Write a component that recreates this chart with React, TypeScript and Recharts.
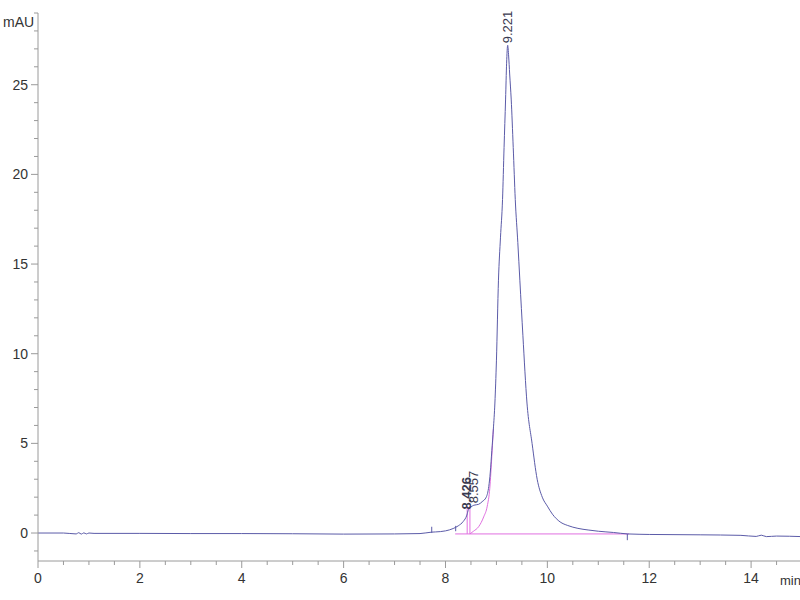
import { Line, LineChart, ReferenceDot, ReferenceLine, XAxis, YAxis } from 'recharts';

// blue detector trace (min, mAU)
const traceTime = [
  0, 0.5, 0.75, 0.8, 0.85, 0.9, 0.95, 1.0, 1.1, 2, 3, 4, 5, 6, 7, 7.5, 7.73, 7.8, 8.0, 8.15, 8.25, 8.35,
  8.42, 8.45, 8.5, 8.557, 8.65, 8.72, 8.8, 8.85, 8.88, 8.91, 8.94, 8.97, 9.0, 9.04, 9.08, 9.12, 9.15, 9.18,
  9.2, 9.221, 9.24, 9.26, 9.29, 9.33, 9.37, 9.42, 9.46, 9.52, 9.6, 9.7, 9.8, 9.9, 10.0, 10.1, 10.25, 10.4,
  10.6, 10.8, 11.0, 11.3, 11.57, 11.8, 12, 13, 13.8, 14.1, 14.2, 14.3, 14.5, 15,
];
const traceSignal = [
  0, 0, -0.05, 0.02, -0.06, 0.01, -0.05, 0, -0.02, -0.02, -0.03, -0.03, -0.04, -0.06, -0.05, -0.03, 0.05,
  0.06, 0.12, 0.25, 0.4, 0.65, 1.0, 1.3, 1.45, 1.55, 1.6, 1.75, 2.0, 2.6, 3.4, 4.6, 5.8, 7.25, 9.6, 14.1,
  16.5, 18.6, 21.5, 24.2, 26.2, 27.2, 26.6, 25.6, 24.2, 21.5, 18.6, 16.2, 14.1, 11.0, 7.25, 5.0, 3.0, 2.0,
  1.5, 1.05, 0.62, 0.42, 0.26, 0.17, 0.1, 0.03, -0.05, -0.07, -0.08, -0.1, -0.13, -0.19, -0.12, -0.2, -0.17,
  -0.2,
];

// magenta skim of the main peak and the integration baseline
const skimTime = [8.48, 8.55, 8.65, 8.75, 8.82, 8.87, 8.91, 8.94];
const skimSignal = [-0.05, 0.1, 0.35, 0.9, 1.5, 2.5, 4.3, 5.8];
const baseTime = [8.19, 11.6];
const baseSignal = [-0.05, -0.05];

// peak markers
const dropTimes = [8.426, 8.48];
const dropTops = [1.5, 1.5];
const tickTimes = [7.73, 8.2, 11.57];
const tickLow = [0, 0.1, -0.05];
const tickHigh = [0.35, 0.4, -0.4];

const peakTimes = [8.426, 8.557, 9.221];
const peakHeights = [1.2, 1.55, 27.2];
const peakLabels = ['8.426', '8.557', '9.221'];

const xTicks = Array.from({ length: 30 }, (_, i) => i * 0.5);
const xLabels = [0, 2, 4, 6, 8, 10, 12, 14];
const yTicks = Array.from({ length: 31 }, (_, i) => i - 1);
const yLabels = [0, 5, 10, 15, 20, 25];

const trace = traceTime.map((t, i) => ({ t, v: traceSignal[i] }));
const skim = skimTime.map((t, i) => ({ t, v: skimSignal[i] }));
const base = baseTime.map((t, i) => ({ t, v: baseSignal[i] }));

const FONT = '"Liberation Sans Narrow", "Liberation Sans", Arial, sans-serif';
const AXIS = '#9a9a9a';
const BLUE = '#5b5ba8';
const PINK = '#e070e0';

function XTick({ x, y, payload }: any) {
  const major = xLabels.includes(payload.value);
  return (
    <g>
      <line x1={x} y1={y} x2={x} y2={y + (major ? 7 : 4)} stroke={AXIS} />
      {major && (
        <text x={x} y={y + 22} textAnchor="middle" fontSize={14} fontFamily={FONT} fill="#333">
          {payload.value}
        </text>
      )}
    </g>
  );
}

function YTick({ x, y, payload }: any) {
  const major = yLabels.includes(payload.value);
  return (
    <g>
      <line x1={x} y1={y} x2={x - (major ? 7 : 4)} y2={y} stroke={AXIS} />
      {major && (
        <text x={x - 10} y={y + 5} textAnchor="end" fontSize={14} fontFamily={FONT} fill="#333">
          {payload.value}
        </text>
      )}
    </g>
  );
}

export default function App() {
  return (
    <div style={{ position: 'absolute', left: 0, top: 0, width: 800, height: 600, background: '#fff' }}>
      <LineChart width={800} height={600} margin={{ top: 13, right: 0, bottom: 0, left: 0 }}>
        <XAxis
          dataKey="t"
          type="number"
          domain={[0, 14.96]}
          ticks={xTicks}
          interval={0}
          allowDataOverflow
          height={39}
          stroke={AXIS}
          tickLine={false}
          tickSize={0}
          tickMargin={0}
          tick={<XTick />}
        />
        <YAxis
          type="number"
          domain={[-1.56, 29]}
          ticks={yTicks}
          interval={0}
          allowDataOverflow
          width={38}
          stroke={AXIS}
          tickLine={false}
          tickSize={0}
          tickMargin={0}
          tick={<YTick />}
        />
        <Line data={base} dataKey="v" stroke={PINK} strokeWidth={1} dot={false} isAnimationActive={false} />
        <Line data={skim} dataKey="v" type="monotone" stroke={PINK} strokeWidth={1} dot={false} isAnimationActive={false} />
        {dropTimes.map((t, i) => (
          <ReferenceLine
            key={'d' + i}
            segment={[{ x: t, y: -0.05 }, { x: t, y: dropTops[i] }]}
            stroke={PINK}
            strokeWidth={1}
          />
        ))}
        <Line data={trace} dataKey="v" type="monotone" stroke={BLUE} strokeWidth={1} dot={false} isAnimationActive={false} />
        {tickTimes.map((t, i) => (
          <ReferenceLine
            key={'k' + i}
            segment={[{ x: t, y: tickLow[i] }, { x: t, y: tickHigh[i] }]}
            stroke={BLUE}
            strokeWidth={1}
          />
        ))}
        {peakTimes.map((t, i) => (
          <ReferenceDot
            key={'p' + i}
            x={t}
            y={peakHeights[i]}
            r={0}
            shape={(p: any) => (
              <text
                x={p.cx + 4}
                y={p.cy - 2}
                transform={`rotate(-90 ${p.cx + 4} ${p.cy - 2})`}
                fontSize={13}
                fontFamily={FONT}
                fontWeight={i === 0 ? 700 : 400}
                fill="#3a3a50"
              >
                {peakLabels[i]}
              </text>
            )}
          />
        ))}
      </LineChart>
      <div style={{ position: 'absolute', left: 3, top: 14, fontSize: 14, fontFamily: FONT, color: '#333' }}>mAU</div>
      <div style={{ position: 'absolute', left: 780, top: 573, fontSize: 13, fontFamily: FONT, color: '#333' }}>min</div>
    </div>
  );
}
